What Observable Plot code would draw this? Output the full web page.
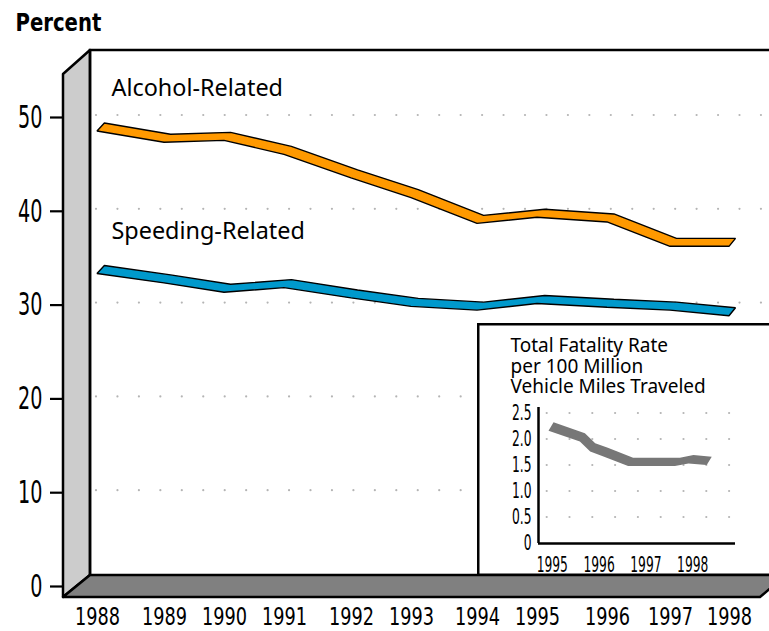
<!DOCTYPE html>
<html><head><meta charset="utf-8">
<script src="https://cdn.jsdelivr.net/npm/d3@7"></script>
<script src="https://cdn.jsdelivr.net/npm/@observablehq/plot@0.6"></script>
<style>
body{margin:0;background:#fff;}
#wrap{position:relative;width:769px;height:631px;overflow:hidden;background:#fff;}
#wrap svg{display:block;}
#inset{position:absolute;left:477px;top:323px;}
</style></head><body><div id="wrap"></div>
<script>
// ---- data ----
const years = [1988, 1989, 1990, 1991, 1992, 1993, 1994, 1995, 1996, 1997, 1998];
const alcohol = [48.3, 47.1, 47.3, 45.8, 43.3, 41.2, 38.45, 39.1, 38.6, 36.0, 36.0];
const speeding = [33.1, 32.1, 31.1, 31.6, 30.5, 29.6, 29.2, 29.9, 29.5, 29.2, 28.6];
const seriesNames = ["Alcohol-Related", "Speeding-Related"];
const yTicks = [0, 10, 20, 30, 40, 50];
const yLabel = "Percent";

const insetYears = [1994.93, 1995.60, 1995.82, 1996.09, 1996.63, 1997.63, 1997.92, 1998.31];
const insetRates = [2.16, 1.95, 1.76, 1.67, 1.48, 1.48, 1.53, 1.50];
const insetXTicks = [1995, 1996, 1997, 1998];
const insetYTicks = [0, 0.5, 1, 1.5, 2, 2.5];
const insetTitle = "Total Fatality Rate\nper 100 Million\nVehicle Miles Traveled";

// ---- layout / style ----
const W = 769, H = 631;
const yearRange = [97, 164, 224, 284, 351, 411, 477, 537, 607, 670, 729];
const COND = '"DejaVu Sans",sans-serif';
const SANS = '"Noto Sans",sans-serif';
const colors = ["#FF9900", "#0099CC"];
const DX = 0.11, DY = 0.85; // ribbon depth in data units
// horizontal squeeze per font size (to mimic a condensed face)
const condenseBySize = {"32": 0.6, "24.3": 0.73, "20.5": 0.6, "24.6": 0.8};

const series = [alcohol, speeding].map((vals, i) => ({
  name: seriesNames[i], color: colors[i],
  rows: years.map((year, j) => ({year, value: vals[j]}))
}));

function decor(index, scales) {
  const g = d3.create("svg:g");
  g.append("rect").attr("x", 90).attr("y", 50).attr("width", W).attr("height", 525).attr("fill", "white");
  for (const v of yTicks.filter(d => d > 0)) {
    const y = scales.y(v);
    for (let x = 96; x < W; x += 21.45)
      g.append("circle").attr("cx", x).attr("cy", y).attr("r", 1.1).attr("fill", "#b4b4b4");
  }
  g.append("path").attr("d", "M90,50L63,74L63,597L90,575Z")
    .attr("fill", "#cccccc").attr("stroke", "black").attr("stroke-width", 2.5).attr("stroke-linejoin", "round");
  g.append("path").attr("d", "M90,575L786,575L760,597L63,597Z")
    .attr("fill", "#808080").attr("stroke", "black").attr("stroke-width", 2.5).attr("stroke-linejoin", "round");
  g.append("path").attr("d", "M90,575L90,50L790,50")
    .attr("fill", "none").attr("stroke", "black").attr("stroke-width", 2.5);
  return g.node();
}

const main = Plot.plot({
  width: W, height: H,
  marginLeft: 62, marginRight: 0, marginTop: 0, marginBottom: 0,
  x: {type: "linear", domain: years, range: yearRange, axis: null},
  y: {type: "linear", domain: [0, 50], range: [584, 115], axis: null},
  style: {background: "white", color: "black"},
  marks: [
    decor,
    ...series.map(s => Plot.area(s.rows, {
      x1: "year", y1: "value",
      x2: d => d.year + DX, y2: d => d.value + DY,
      fill: s.color, stroke: "black", strokeWidth: 1.4, strokeLinejoin: "miter"
    })),
    Plot.text(series, {
      x: d => d.rows[0].year, y: d => d.rows[0].value, text: "name",
      dx: 14, dy: -35, textAnchor: "start", lineAnchor: "bottom",
      fontFamily: SANS, fontSize: 23.4, fill: "black"
    }),
    Plot.axisY({
      ticks: yTicks, anchor: "left", label: null, tickSize: 12, tickPadding: 8, strokeWidth: 2.2, dy: 2,
      tickFormat: d => String(d), fontFamily: COND, fontSize: 32
    }),
    Plot.text(years, {
      x: d => d, text: d => String(d), frameAnchor: "bottom", dy: -14, lineAnchor: "middle",
      fontFamily: COND, fontSize: 24.3, fill: "black"
    }),
    Plot.text([yLabel], {
      text: d => d, frameAnchor: "top-left", dx: -47, dy: 13, lineAnchor: "top", textAnchor: "start",
      fontFamily: COND, fontWeight: "bold", fontSize: 24.6, fill: "black"
    })
  ]
});

// ---- inset ----
const insetRows = insetYears.map((year, i) => ({year, rate: insetRates[i]}));
const IW = 292, IH = 253;
const xStart = 1994.705;

function insetDecor(index, scales) {
  const g = d3.create("svg:g");
  g.append("rect").attr("x", 1.25).attr("y", 1.25).attr("width", 400).attr("height", 250.5)
    .attr("fill", "white").attr("stroke", "black").attr("stroke-width", 2.5);
  for (const v of insetYTicks.filter(d => d > 0)) {
    const y = scales.y(v);
    for (let x = 69.7; x < 262; x += 22.8)
      g.append("circle").attr("cx", x).attr("cy", y).attr("r", 1.1).attr("fill", "#b4b4b4");
  }
  return g.node();
}

const inset = Plot.plot({
  width: IW, height: IH,
  marginLeft: 61, marginRight: 34, marginTop: 84, marginBottom: 33,
  x: {type: "linear", domain: [xStart, 1998.914], axis: null},
  y: {type: "linear", domain: [0, 2.615], axis: null},
  style: {background: "transparent", color: "black"},
  marks: [
    insetDecor,
    Plot.area(insetRows, {x1: "year", y1: "rate", x2: d => d.year + 0.107, y2: d => d.rate + 0.16, fill: "#777777"}),
    Plot.ruleY([0], {stroke: "black", strokeWidth: 2.5}),
    Plot.ruleX([xStart], {stroke: "black", strokeWidth: 2.5}),
    Plot.text(insetYTicks, {
      y: d => d, text: d => d === 0 ? "0" : d.toFixed(1), frameAnchor: "left", dx: -7,
      textAnchor: "end", lineAnchor: "middle", fontFamily: COND, fontSize: 20.5, fill: "black"
    }),
    Plot.text(insetXTicks, {
      x: d => d, text: d => String(d), frameAnchor: "bottom", dy: 22, lineAnchor: "middle",
      fontFamily: COND, fontSize: 20.5, fill: "black"
    }),
    Plot.text([insetTitle], {
      text: d => d, frameAnchor: "top-left", dx: -28, dy: -70, lineAnchor: "top", lineHeight: 1.08,
      textAnchor: "start", fontFamily: SANS, fontSize: 19, fill: "black"
    })
  ]
});
inset.setAttribute("id", "inset");

function condense(svg) {
  svg.querySelectorAll("g[font-size]").forEach(g => {
    const s = condenseBySize[g.getAttribute("font-size")];
    if (!s) return;
    g.querySelectorAll("text").forEach(t => {
      const tr = t.getAttribute("transform") || "";
      t.setAttribute("transform", tr + ` scale(${s},1)`);
    });
  });
}
condense(main);
condense(inset);

const wrap = document.getElementById("wrap");
wrap.appendChild(main);
wrap.appendChild(inset);
</script></body></html>
